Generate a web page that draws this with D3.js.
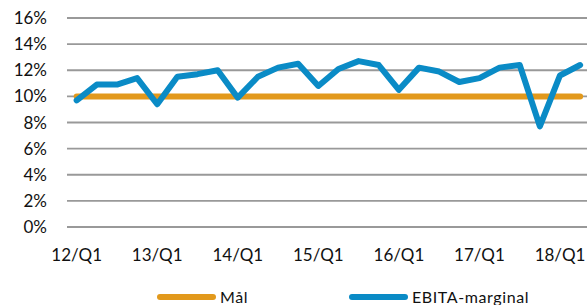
<!DOCTYPE html>
<html>
<head>
<meta charset="utf-8">
<script src="https://cdn.jsdelivr.net/npm/d3@7"></script>
<style>
  body { margin: 0; background: #fff; }
  svg { display: block; }
</style>
</head>
<body>
<div id="chart"></div>
<script>
// quarters 12/Q1 .. 18/Q2
var quarters = ['12/Q1','12/Q2','12/Q3','12/Q4','13/Q1','13/Q2','13/Q3','13/Q4',
                '14/Q1','14/Q2','14/Q3','14/Q4','15/Q1','15/Q2','15/Q3','15/Q4',
                '16/Q1','16/Q2','16/Q3','16/Q4','17/Q1','17/Q2','17/Q3','17/Q4',
                '18/Q1','18/Q2'];
var ebitaMarginal = [9.7, 10.9, 10.9, 11.4, 9.4, 11.5, 11.7, 12.0,
                     9.9, 11.5, 12.2, 12.5, 10.8, 12.1, 12.7, 12.4,
                     10.5, 12.2, 11.9, 11.1, 11.4, 12.2, 12.4, 7.7,
                     11.6, 12.4];
var malValue = 10;
var yTicks = [0, 2, 4, 6, 8, 10, 12, 14, 16];
var xTickLabels = ['12/Q1','13/Q1','14/Q1','15/Q1','16/Q1','17/Q1','18/Q1'];

var width = 587, height = 305;
var orange = '#E2991C', blue = '#0A8BC6';

var svg = d3.select('#chart').append('svg')
    .attr('width', width)
    .attr('height', height);

var x = d3.scalePoint()
    .domain(quarters)
    .range([66.6, 590.2])
    .padding(0.5);

var y = d3.scaleLinear()
    .domain([0, 16])
    .range([227, 18]);

// gridlines
svg.append('g').selectAll('line')
    .data(yTicks)
    .enter().append('line')
    .attr('x1', 67).attr('x2', width)
    .attr('y1', function(d){ return y(d); })
    .attr('y2', function(d){ return y(d); })
    .attr('stroke', '#999')
    .attr('stroke-width', 1.8);

// y labels
svg.append('g').selectAll('text')
    .data(yTicks)
    .enter().append('text')
    .attr('x', 47)
    .attr('y', function(d){ return y(d); })
    .attr('dy', '0.36em')
    .attr('text-anchor', 'end')
    .attr('font-family', 'Lato, sans-serif')
    .attr('font-size', 17)
    .attr('fill', '#111')
    .text(function(d){ return d + '%'; });

// x labels
svg.append('g').selectAll('text')
    .data(xTickLabels)
    .enter().append('text')
    .attr('x', function(d){ return x(d); })
    .attr('y', 255)
    .attr('dy', '0.36em')
    .attr('text-anchor', 'middle')
    .attr('font-family', 'Lato, sans-serif')
    .attr('font-size', 17)
    .attr('fill', '#111')
    .text(function(d){ return d; });

// target line
var malLine = d3.line()
    .x(function(d){ return x(d); })
    .y(function(){ return y(malValue); });

svg.append('path')
    .datum(quarters)
    .attr('d', malLine)
    .attr('fill', 'none')
    .attr('stroke', orange)
    .attr('stroke-width', 6)
    .attr('stroke-linecap', 'round');

// EBITA line
var ebitaLine = d3.line()
    .x(function(d, i){ return x(quarters[i]); })
    .y(function(d){ return y(d); });

svg.append('path')
    .datum(ebitaMarginal)
    .attr('d', ebitaLine)
    .attr('fill', 'none')
    .attr('stroke', blue)
    .attr('stroke-width', 6)
    .attr('stroke-linejoin', 'round')
    .attr('stroke-linecap', 'round');

// legend
var legend = [{name: 'Mål', color: orange, x: 157},
              {name: 'EBITA-marginal', color: blue, x: 349}];

var lg = svg.append('g').selectAll('g')
    .data(legend)
    .enter().append('g');

lg.append('line')
    .attr('x1', function(d){ return d.x + 3; })
    .attr('x2', function(d){ return d.x + 56; })
    .attr('y1', 297).attr('y2', 297)
    .attr('stroke', function(d){ return d.color; })
    .attr('stroke-width', 6)
    .attr('stroke-linecap', 'round');

lg.append('text')
    .attr('x', function(d){ return d.x + 63; })
    .attr('y', 297)
    .attr('dy', '0.36em')
    .attr('font-family', 'Lato, sans-serif')
    .attr('font-size', 16)
    .attr('letter-spacing', 0.6)
    .attr('fill', '#111')
    .text(function(d){ return d.name; });
</script>
</body>
</html>
